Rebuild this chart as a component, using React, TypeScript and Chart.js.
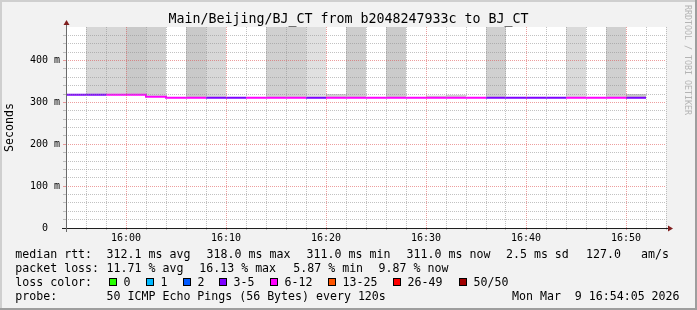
import React, { useEffect, useRef } from "react";
import { Chart, registerables } from "chart.js";

Chart.register(...registerables);

const FONT = '"DejaVu Sans Mono", monospace';

// ---- data ----
const title = "Main/Beijing/BJ_CT from b2048247933c to BJ_CT";
const stepEnds = [
  "15:56", "15:58", "16:00", "16:02", "16:04", "16:06", "16:08", "16:10",
  "16:12", "16:14", "16:16", "16:18", "16:20", "16:22", "16:24", "16:26",
  "16:28", "16:30", "16:32", "16:34", "16:36", "16:38", "16:40", "16:42",
  "16:44", "16:46", "16:48", "16:50", "16:52",
];
const medianRtt = [
  318, 318, 318, 318, 313.5, 311, 311, 311, 311, 311, 311, 311, 311, 311, 311,
  311, 311, 311, 311, 311, 311, 311, 311, 311, 311, 311, 311, 311, 311,
];
const lostPings = [
  5, 4, 7, 6, 7, 6, 8, 5, 3, 6, 7, 6, 5, 6, 7, 6, 7, 6, 6, 7, 6, 5, 4, 5, 4, 7, 6, 7, 5,
];
const smokeTop = [
  318, 600, 600, 600, 600, 311, 600, 600, 311, 311, 600, 600, 600, 320, 600,
  311, 600, 311, 316, 318, 311, 600, 311, 311, 311, 600, 311, 600, 320,
];
const smokeShade = [
  "#ffffff", "#d7d7d7", "#d7d7d7", "#c9c9c9", "#d0d0d0", "#ffffff", "#c9c9c9", "#d8d8d8",
  "#ffffff", "#ffffff", "#d0d0d0", "#d0d0d0", "#e0e0e0", "#d0d0d0", "#cdcdcd", "#ffffff",
  "#cbcbcb", "#ffffff", "#d0d0d0", "#d0d0d0", "#ffffff", "#d0d0d0", "#ffffff", "#ffffff",
  "#ffffff", "#dadada", "#ffffff", "#d0d0d0", "#c8c8c8",
];
const lossLabels = ["0", "1", "2", "3-5", "6-12", "13-25", "26-49", "50/50"];
const lossUpper = [0, 1, 2, 5, 12, 25, 49, 50];
const lossColors = ["#26ff00", "#00b8ff", "#0059ff", "#7e00ff", "#ff00ff", "#ff5500", "#ff0000", "#a10000"];
const xTickLabels = ["16:00", "16:10", "16:20", "16:30", "16:40", "16:50"];
const yTickLabels = ["0  ", "100 m", "200 m", "300 m", "400 m"];
const yAxisTitle = "Seconds";
const rttStats = ["312.1 ms avg", "318.0 ms max", "311.0 ms min", "311.0 ms now", "2.5 ms sd", "127.0", "am/s"];
const lossStats = ["11.71 % avg", "16.13 % max", "5.87 % min", "9.87 % now"];
const probeText = "50 ICMP Echo Pings (56 Bytes) every 120s";
const stampText = "Mon Mar  9 16:54:05 2026";
const watermark = "RRDTOOL / TOBI OETIKER";

// ---- helpers ----
const toMin = (t: string) => {
  const [h, m] = t.split(":").map(Number);
  return h * 60 + m;
};
const fmtMin = (v: number) =>
  `${Math.floor(v / 60)}:${String(Math.round(v % 60)).padStart(2, "0")}`;
const stepMin = toMin(stepEnds[1]) - toMin(stepEnds[0]);
const xMin = toMin(stepEnds[0]) - stepMin;
const xMax = toMin(stepEnds[stepEnds.length - 1]) + stepMin;
const lossColorFor = (i: number) => {
  const n = lostPings[i];
  const b = lossUpper.findIndex((u) => n <= u);
  return lossColors[b < 0 ? lossColors.length - 1 : b];
};

const linePoints = stepEnds.map((t, i) => ({ x: toMin(t) - stepMin, y: medianRtt[i] }));
linePoints.push({ x: toMin(stepEnds[stepEnds.length - 1]), y: medianRtt[medianRtt.length - 1] });
const smokeBars = stepEnds.map((t, i) => ({ x: toMin(t) - stepMin / 2, y: [medianRtt[i], smokeTop[i]] }));

const MINOR = "rgba(143,143,143,0.55)";
const MAJOR = "rgba(222,79,79,0.55)";

const framePlugin = {
  id: "frame",
  beforeDraw(chart: any) {
    const { ctx, chartArea: a, width, height } = chart;
    ctx.save();
    ctx.fillStyle = "#f2f2f2";
    ctx.fillRect(0, 0, width, height);
    ctx.fillStyle = "#cfcfcf";
    ctx.fillRect(0, 0, width, 2);
    ctx.fillRect(0, 0, 2, height);
    ctx.fillStyle = "#9e9e9e";
    ctx.fillRect(0, height - 2, width, 2);
    ctx.fillRect(width - 2, 0, 2, height);
    ctx.fillStyle = "#ffffff";
    ctx.fillRect(a.left, a.top, a.right - a.left, a.bottom - a.top);
    ctx.restore();
  },
  afterDraw(chart: any) {
    const { ctx, chartArea: a } = chart;
    const x0 = a.left;
    const y0 = chart.scales.y.getPixelForValue(0);
    ctx.save();
    // axes
    ctx.lineWidth = 1;
    ctx.strokeStyle = "#1f1f1f";
    ctx.beginPath();
    ctx.moveTo(x0 - 4, y0 + 0.5);
    ctx.lineTo(a.right + 4, y0 + 0.5);
    ctx.stroke();
    ctx.strokeStyle = "#6a6a6a";
    ctx.beginPath();
    ctx.moveTo(x0 + 0.5, y0 + 4);
    ctx.lineTo(x0 + 0.5, a.top - 4);
    ctx.stroke();
    ctx.fillStyle = "#801f1f";
    ctx.beginPath();
    ctx.moveTo(a.right + 2, y0 - 2.5);
    ctx.lineTo(a.right + 2, y0 + 3.5);
    ctx.lineTo(a.right + 7, y0 + 0.5);
    ctx.closePath();
    ctx.fill();
    ctx.beginPath();
    ctx.moveTo(x0 - 2.5, a.top - 2);
    ctx.lineTo(x0 + 3.5, a.top - 2);
    ctx.lineTo(x0 + 0.5, a.top - 7);
    ctx.closePath();
    ctx.fill();

    // title
    ctx.fillStyle = "#000";
    ctx.textBaseline = "alphabetic";
    ctx.textAlign = "center";
    ctx.font = `13.3px ${FONT}`;
    ctx.fillText(title, 348.5, 23);

    // legend
    ctx.textAlign = "left";
    ctx.font = `11.6px ${FONT}`;
    const r1 = 258, r2 = 272, r3 = 286, r4 = 300;
    ctx.fillText("median rtt:", 15.3, r1);
    const r1x = [106.6, 206.6, 306.6, 406.6, 506, 586, 641];
    rttStats.forEach((s, i) => ctx.fillText(s, r1x[i], r1));
    ctx.fillText("packet loss:", 15.3, r2);
    const r2x = [106.6, 199.3, 293.3, 378.6];
    lossStats.forEach((s, i) => ctx.fillText(s, r2x[i], r2));
    ctx.fillText("loss color:", 15.3, r3);
    const boxX = [109, 146, 183, 219, 270, 328, 393, 459];
    lossLabels.forEach((s, i) => {
      ctx.fillStyle = "#000";
      ctx.fillRect(boxX[i], r3 - 8, 8, 8);
      ctx.fillStyle = lossColors[i];
      ctx.fillRect(boxX[i] + 1, r3 - 7, 6, 6);
      ctx.fillStyle = "#000";
      ctx.fillText(s, boxX[i] + 14.5, r3);
    });
    ctx.fillText("probe:", 15.3, r4);
    ctx.fillText(probeText, 106.6, r4);
    ctx.fillText(stampText, 512, r4);

    // watermark
    ctx.save();
    ctx.translate(687, 5);
    ctx.rotate(Math.PI / 2);
    ctx.font = `8.3px ${FONT}`;
    ctx.fillStyle = "#b4b4b4";
    ctx.textBaseline = "middle";
    ctx.fillText(watermark, 0, 0);
    ctx.restore();
    ctx.restore();
  },
};

export default function App() {
  const ref = useRef<HTMLCanvasElement>(null);
  useEffect(() => {
    const chart = new Chart(ref.current as HTMLCanvasElement, {
      type: "line",
      data: {
        datasets: [
          {
            type: "line",
            data: linePoints,
            stepped: "before",
            borderWidth: 2,
            pointRadius: 0,
            fill: false,
            borderColor: lossColorFor(0),
            borderCapStyle: "butt",
            borderJoinStyle: "miter",
            segment: { borderColor: (c: any) => lossColorFor(c.p0DataIndex) },
            order: 0,
          } as any,
          {
            type: "bar",
            data: smokeBars,
            backgroundColor: smokeShade,
            borderWidth: 0,
            barPercentage: 1,
            categoryPercentage: 1,
            grouped: false,
            inflateAmount: 0,
            order: 1,
          } as any,
        ],
      },
      options: {
        responsive: false,
        animation: false,
        devicePixelRatio: 1,
        layout: { padding: { left: 0, right: 31, top: 27, bottom: 62 } },
        plugins: {
          legend: { display: false },
          tooltip: { enabled: false },
          title: { display: false },
        },
        scales: {
          x: {
            type: "linear",
            min: xMin,
            max: xMax,
            offset: false,
            ticks: {
              stepSize: stepMin,
              autoSkip: false,
              maxRotation: 0,
              minRotation: 0,
              padding: 2,
              color: "#000",
              font: { family: FONT, size: 10 },
              callback: (v: any) => {
                const s = fmtMin(Number(v));
                return xTickLabels.includes(s) ? s : "";
              },
            },
            grid: {
              z: 1,
              offset: false,
              lineWidth: 1,
              tickLength: 2,
              tickBorderDash: [],
              color: (c: any) => (c.tick && c.tick.value % 10 === 0 ? MAJOR : MINOR),
            },
            border: { display: false, dash: [1, 1] },
            afterFit: (s: any) => {
              s.height = 20;
            },
          } as any,
          y: {
            type: "linear",
            min: 0,
            max: 480,
            ticks: {
              stepSize: 20,
              autoSkip: false,
              padding: 3,
              color: "#000",
              font: { family: FONT, size: 10 },
              callback: (v: any) => {
                const n = Number(v);
                const lab = n % 100 === 0 ? yTickLabels[n / 100] : undefined;
                return lab || "";
              },
            },
            grid: {
              z: 1,
              lineWidth: 1,
              tickLength: 3,
              tickBorderDash: [],
              color: (c: any) => {
                const v = c.tick ? c.tick.value : 0;
                if (v >= 480) return "rgba(0,0,0,0)";
                return v % 100 === 0 ? MAJOR : MINOR;
              },
            },
            border: { display: false, dash: [1, 1] },
            title: {
              display: true,
              text: yAxisTitle,
              color: "#000",
              font: { family: FONT, size: 11.6 },
              padding: { top: 3.5, bottom: 0 },
            },
            afterFit: (s: any) => {
              s.width = 66;
            },
          } as any,
        },
      },
      plugins: [framePlugin],
    } as any);
    return () => chart.destroy();
  }, []);
  return (
    <div style={{ position: "absolute", left: 0, top: 0, width: 697, height: 310 }}>
      <canvas ref={ref} width={697} height={310} style={{ display: "block", width: 697, height: 310 }} />
    </div>
  );
}
